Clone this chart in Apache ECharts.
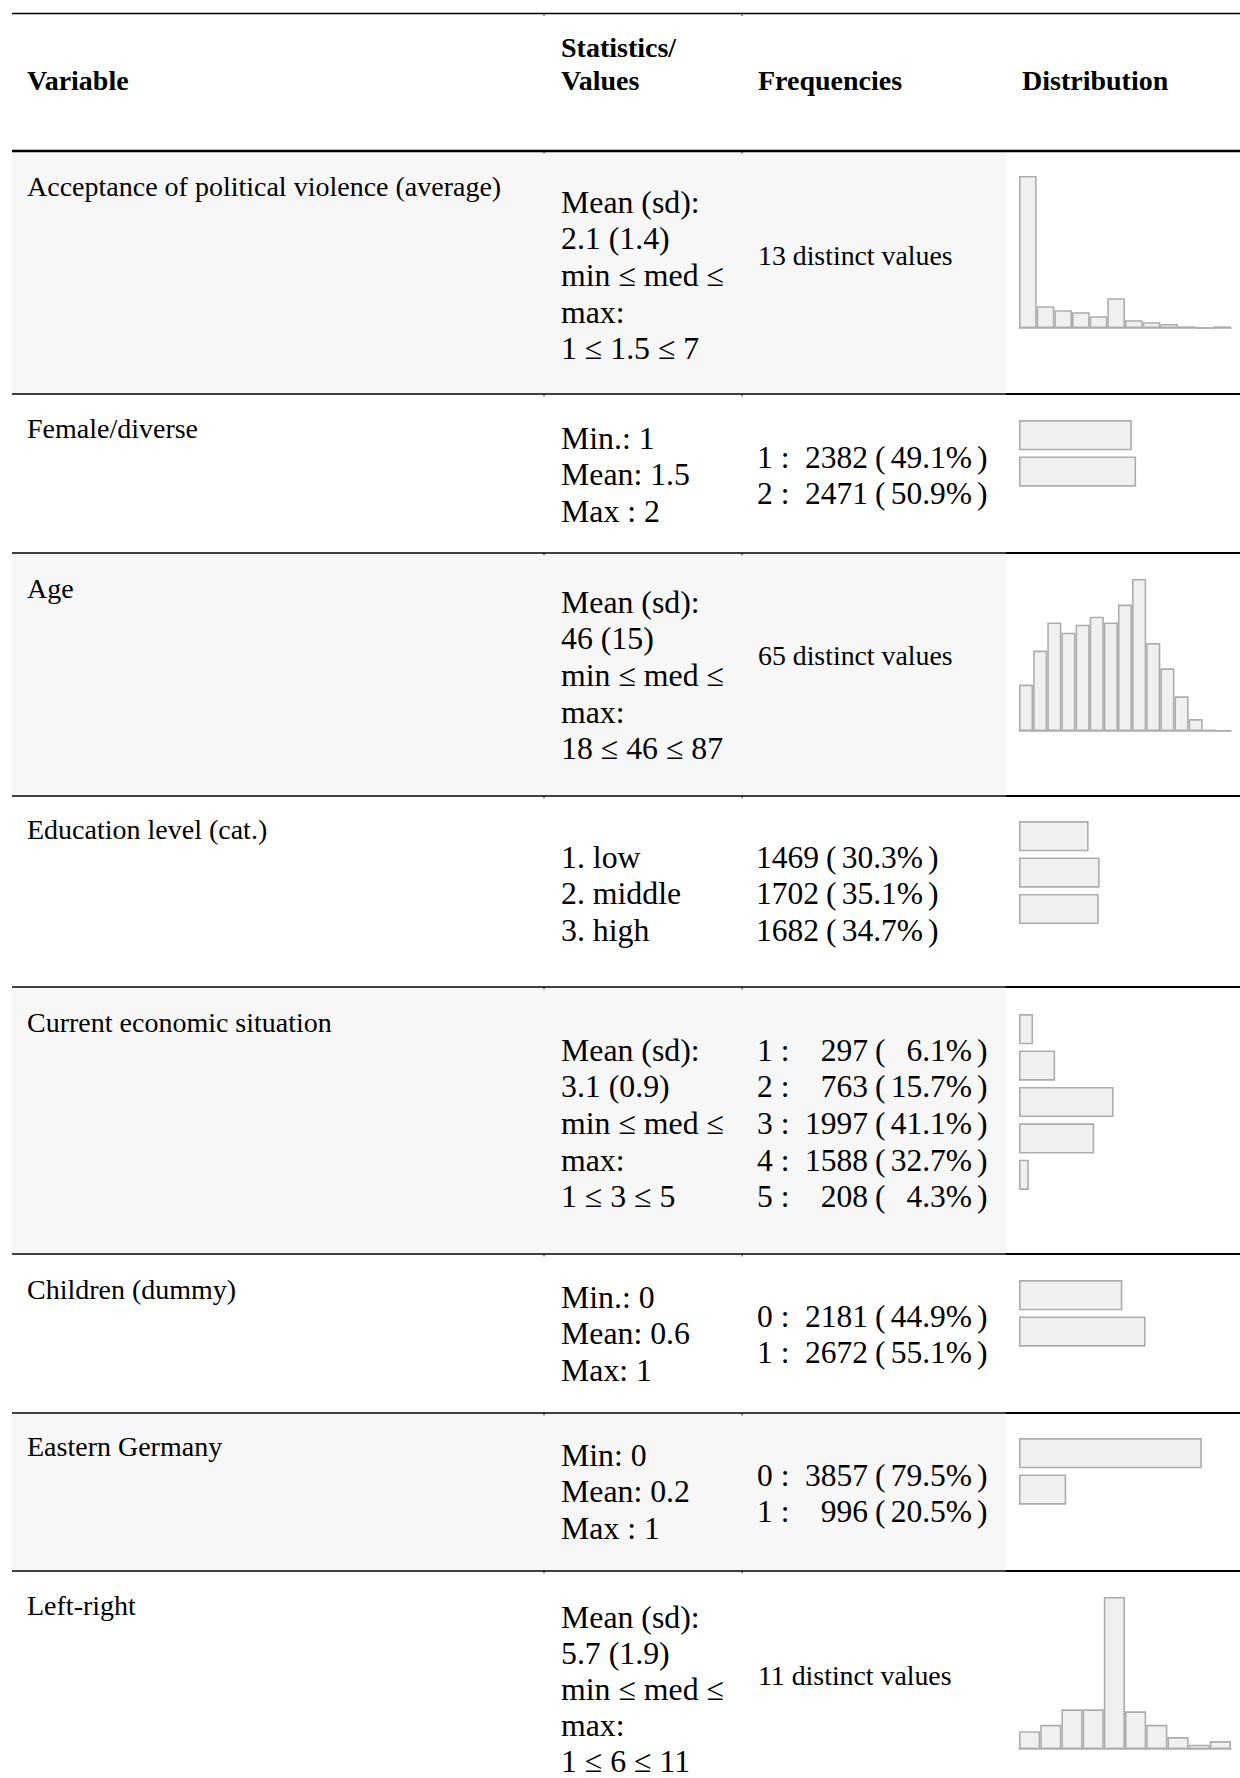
<!DOCTYPE html>
<html>
<head>
<meta charset="utf-8">
<script src="https://cdn.jsdelivr.net/npm/echarts@6/dist/echarts.min.js"></script>
<style>
html, body { margin: 0; padding: 0; background: #fff; }
#summary { width: 1240px; height: 1778px; }
</style>
</head>
<body>
<div id="summary"></div>
<script>
// table content
const headers = ['Variable', 'Statistics/', 'Values', 'Frequencies', 'Distribution']
const variableNames = [
  'Acceptance of political violence (average)',
  'Female/diverse',
  'Age',
  'Education level (cat.)',
  'Current economic situation',
  'Children (dummy)',
  'Eastern Germany',
  'Left-right'
]
const statsLines = [
  ['Mean (sd):', '2.1 (1.4)', 'min \u2264 med \u2264', 'max:', '1 \u2264 1.5 \u2264 7'],
  ['Min.: 1', 'Mean: 1.5', 'Max : 2'],
  ['Mean (sd):', '46 (15)', 'min \u2264 med \u2264', 'max:', '18 \u2264 46 \u2264 87'],
  ['1. low', '2. middle', '3. high'],
  ['Mean (sd):', '3.1 (0.9)', 'min \u2264 med \u2264', 'max:', '1 \u2264 3 \u2264 5'],
  ['Min.: 0', 'Mean: 0.6', 'Max: 1'],
  ['Min: 0', 'Mean: 0.2', 'Max : 1'],
  ['Mean (sd):', '5.7 (1.9)', 'min \u2264 med \u2264', 'max:', '1 \u2264 6 \u2264 11']
]
const distinctTexts = ['13 distinct values', null, '65 distinct values', null, null, null, null, '11 distinct values']

// categorical frequencies
const femaleLevels = ['1', '2']
const femaleCounts = [2382, 2471]
const educationLevels = [null, null, null]
const educationCounts = [1469, 1702, 1682]
const economyLevels = ['1', '2', '3', '4', '5']
const economyCounts = [297, 763, 1997, 1588, 208]
const childrenLevels = ['0', '1']
const childrenCounts = [2181, 2672]
const eastLevels = ['0', '1']
const eastCounts = [3857, 996]

// histogram bin counts
const violenceHist = [2734, 392, 320, 284, 211, 537, 139, 103, 72, 30, 0, 30]
const ageHist = [198, 343, 463, 419, 453, 487, 463, 539, 648, 375, 267, 148, 51, 6, 2]
const leftRightHist = [241, 326, 536, 536, 2051, 509, 326, 161, 58, 107]

const font = "'Liberation Serif', 'Times New Roman', serif"
const barFill = '#f0f0f0'
const barLine = '#adadad'

// layout: row bounds and text anchors
const rowTops = [151, 394, 553, 796, 987, 1254, 1413, 1571]
const rowBottoms = [394, 553, 796, 987, 1254, 1413, 1571, 1800]
const labelY = [186, 428, 588, 829, 1022, 1289, 1446, 1605]
const statsY = [202, 438, 602, 857, 1050, 1297, 1455, 1617]
const statsStep = [36.7, 36.7, 36.7, 36.7, 36.7, 36.7, 36.7, 36.2]
const freqY = [255, 457, 655, 857, 1050, 1316, 1475, 1675]
const lineStep = 36.7

const graphic = []
function text (str, x, y, size, opts) {
  opts = opts || {}
  graphic.push({
    type: 'text',
    x: x,
    y: y,
    z: 10,
    style: {
      text: str,
      font: (opts.bold ? 'bold ' : '') + size + 'px ' + font,
      fill: '#000',
      textAlign: opts.align || 'left',
      align: opts.align || 'left',
      textVerticalAlign: 'middle',
      verticalAlign: 'middle'
    }
  })
}
function line (x1, y1, x2, y2, w) {
  graphic.push({ type: 'line', z: 5, shape: { x1, y1, x2, y2 }, style: { stroke: '#000', lineWidth: w } })
}

// gray row backgrounds (distribution column stays white)
rowTops.forEach((top, i) => {
  if (i % 2 === 0) {
    graphic.push({ type: 'rect', z: -10, shape: { x: 12, y: top, width: 994, height: rowBottoms[i] - top }, style: { fill: '#f7f7f7' } })
  }
})

// rules
line(12, 13.5, 1240, 13.5, 1.5)
line(12, 151, 1240, 151, 2.6)
rowTops.slice(1).forEach(y => {
  line(12, y, 1006, y, 1.3)
  line(1006, y, 1240, y, 2.2)
});
[13.5, 151].concat(rowTops.slice(1)).forEach(y => {
  line(544, y, 544, y + 2.5, 0.8)
  line(742, y, 742, y + 2.5, 0.8)
})

// header
text(headers[0], 27, 80, 28, { bold: true })
text(headers[1], 561, 47, 28, { bold: true })
text(headers[2], 561, 80, 28, { bold: true })
text(headers[3], 758, 80, 28, { bold: true })
text(headers[4], 1022, 80, 28, { bold: true })

// body text
variableNames.forEach((name, i) => {
  text(name, 27, labelY[i], 28)
  statsLines[i].forEach((s, k) => text(s, 561, statsY[i] + k * statsStep[i], 31.8))
  if (distinctTexts[i]) text(distinctTexts[i], 758, freqY[i], 27.8)
})

function freqBlock (row, levels, counts) {
  const total = counts.reduce((a, b) => a + b, 0)
  const shift = levels[0] === null ? -49 : 0
  counts.forEach((c, k) => {
    const y = freqY[row] + k * lineStep
    if (levels[k] !== null) text(levels[k] + ' :', 757, y, 31.5)
    text(String(c), 868 + shift, y, 31.5, { align: 'right' })
    text('(', 875 + shift, y, 31.5)
    text((c / total * 100).toFixed(1) + '%', 972 + shift, y, 31.5, { align: 'right' })
    text(')', 977 + shift, y, 31.5)
  })
}
freqBlock(1, femaleLevels, femaleCounts)
freqBlock(3, educationLevels, educationCounts)
freqBlock(4, economyLevels, economyCounts)
freqBlock(5, childrenLevels, childrenCounts)
freqBlock(6, eastLevels, eastCounts)

// mini charts
const grids = []
const xAxes = []
const yAxes = []
const series = []
const itemStyle = { color: barFill, borderColor: barLine, borderWidth: 1.6 }

function addHist (counts, baseline) {
  const idx = grids.length
  grids.push({ left: 1019, width: 212, top: baseline - 152, height: 152 })
  xAxes.push({
    gridIndex: idx,
    type: 'category',
    data: counts.map((c, i) => String(i + 1)),
    axisLine: { show: true, lineStyle: { color: barLine, width: 1.5 } },
    axisTick: { show: false },
    axisLabel: { show: false },
    splitLine: { show: false }
  })
  yAxes.push({ gridIndex: idx, type: 'value', min: 0, max: 'dataMax', show: false, splitLine: { show: false } })
  series.push({
    type: 'bar',
    xAxisIndex: idx,
    yAxisIndex: idx,
    data: counts,
    barCategoryGap: '0%',
    itemStyle: itemStyle,
    silent: true
  })
}

// 100% of the sample spans 230px, but the grid has to stop at the page edge
const fullBarWidth = 230
const barGridWidth = 221
function addBars (counts, top) {
  const idx = grids.length
  const total = counts.reduce((a, b) => a + b, 0)
  grids.push({ left: 1019, width: barGridWidth, top: top, height: counts.length * 36.4 })
  xAxes.push({ gridIndex: idx, type: 'value', min: 0, max: total * barGridWidth / fullBarWidth, show: false, splitLine: { show: false } })
  yAxes.push({
    gridIndex: idx,
    type: 'category',
    inverse: true,
    data: counts.map((c, i) => String(i)),
    show: false
  })
  series.push({
    type: 'bar',
    xAxisIndex: idx,
    yAxisIndex: idx,
    data: counts,
    barCategoryGap: '17%',
    itemStyle: itemStyle,
    silent: true
  })
}

addHist(violenceHist, 328)
addBars(femaleCounts, 417)
addHist(ageHist, 731)
addBars(educationCounts, 818)
addBars(economyCounts, 1011)
addBars(childrenCounts, 1277)
addBars(eastCounts, 1435)
addHist(leftRightHist, 1749)

const chart = echarts.init(document.getElementById('summary'), null, { renderer: 'svg' })
chart.setOption({
  animation: false,
  backgroundColor: '#fff',
  grid: grids,
  xAxis: xAxes,
  yAxis: yAxes,
  series: series,
  graphic: graphic
})
</script>
</body>
</html>
